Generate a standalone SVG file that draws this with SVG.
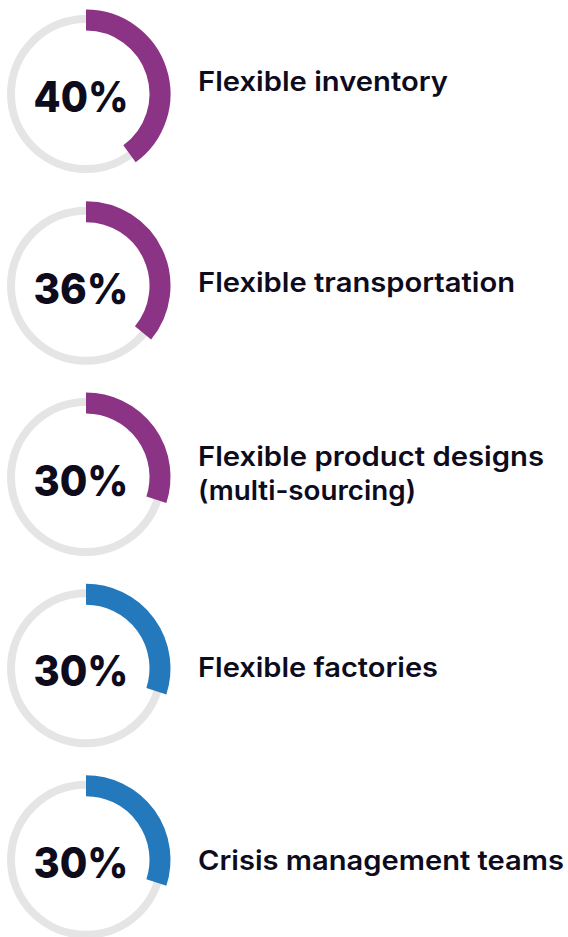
<svg xmlns="http://www.w3.org/2000/svg" width="568" height="937" viewBox="0 0 568 937">
<style>
.track{fill:none;stroke:#e5e5e5;stroke-width:8}
.arc{fill:none;stroke-width:21}
.p{stroke:#8b3385}
.b{stroke:#2479bd}
.pct{font-family:Inter,"Liberation Sans",Arial,sans-serif;font-weight:800;font-size:43px;fill:#0d0b1c;text-anchor:middle}
.lbl{font-family:Inter,"Liberation Sans",Arial,sans-serif;font-weight:600;font-size:27px;fill:#0d0b1c}
</style>
<rect width="568" height="937" fill="#ffffff"/>
<g id="item1">
<circle class="track" cx="86" cy="94" r="75"/>
<path class="arc p" d="M86,20 A74,74 0 0 1 129.5,153.87"/>
<text class="pct" x="81" y="112" textLength="95" lengthAdjust="spacingAndGlyphs">40%</text>
<text class="lbl" x="198" y="91" textLength="250" lengthAdjust="spacingAndGlyphs">Flexible inventory</text>
</g>
<g id="item2">
<circle class="track" cx="86" cy="285.7" r="75"/>
<path class="arc p" d="M86,211.7 A74,74 0 0 1 143.02,332.87"/>
<text class="pct" x="81" y="303.7" textLength="95" lengthAdjust="spacingAndGlyphs">36%</text>
<text class="lbl" x="198" y="292" textLength="317" lengthAdjust="spacingAndGlyphs">Flexible transportation</text>
</g>
<g id="item3">
<circle class="track" cx="86" cy="477" r="75"/>
<path class="arc p" d="M86,403 A74,74 0 0 1 156.38,499.87"/>
<text class="pct" x="81" y="495.5" textLength="95" lengthAdjust="spacingAndGlyphs">30%</text>
<text class="lbl" x="198" y="466" textLength="346" lengthAdjust="spacingAndGlyphs">Flexible product designs</text>
<text class="lbl" x="198" y="500" textLength="218" lengthAdjust="spacingAndGlyphs">(multi-sourcing)</text>
</g>
<g id="item4">
<circle class="track" cx="86" cy="668.3" r="75"/>
<path class="arc b" d="M86,594.3 A74,74 0 0 1 156.38,691.17"/>
<text class="pct" x="81" y="686.3" textLength="95" lengthAdjust="spacingAndGlyphs">30%</text>
<text class="lbl" x="198" y="677" textLength="240" lengthAdjust="spacingAndGlyphs">Flexible factories</text>
</g>
<g id="item5">
<circle class="track" cx="86" cy="859.7" r="75"/>
<path class="arc b" d="M86,785.7 A74,74 0 0 1 156.38,882.57"/>
<text class="pct" x="81" y="877.7" textLength="95" lengthAdjust="spacingAndGlyphs">30%</text>
<text class="lbl" x="198" y="870" textLength="366" lengthAdjust="spacingAndGlyphs">Crisis management teams</text>
</g>
<g id="connectors"/>
</svg>
